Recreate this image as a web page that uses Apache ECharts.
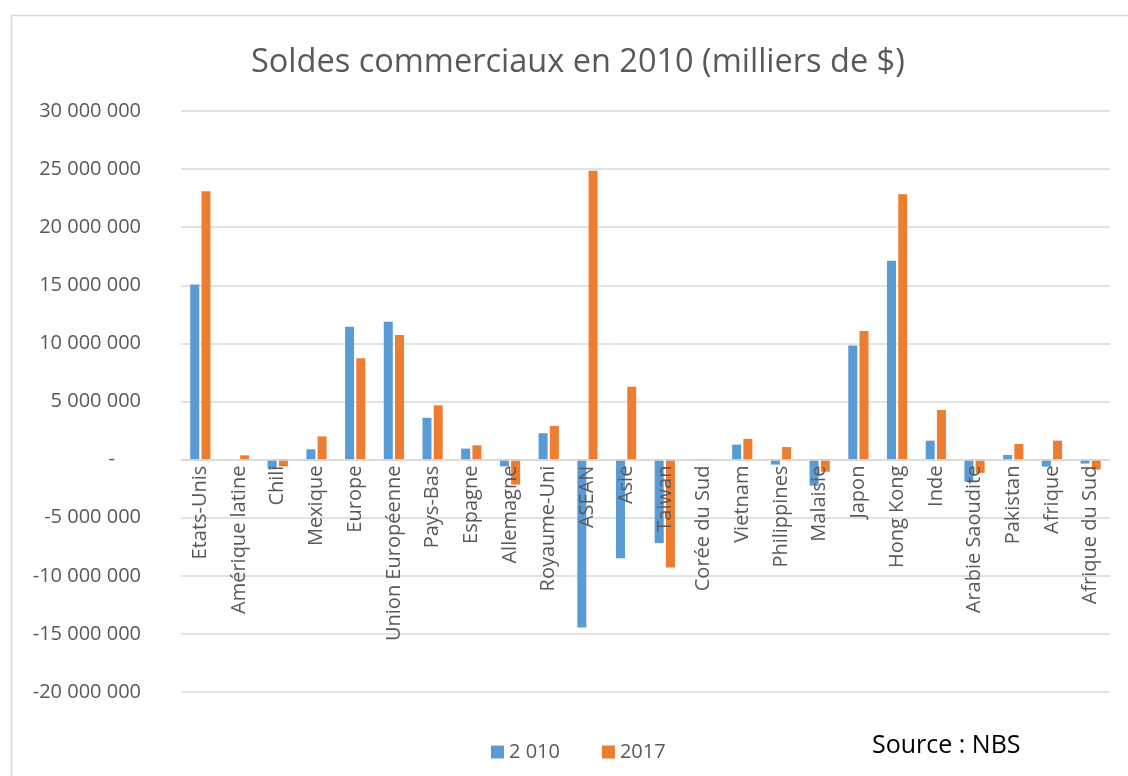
<!DOCTYPE html>
<html>
<head>
<meta charset="utf-8">
<title>Soldes commerciaux</title>
<script src="https://cdn.jsdelivr.net/npm/echarts@6/dist/echarts.min.js"></script>
<style>
  html, body { margin: 0; padding: 0; background: #fff; }
  #chart { width: 1128px; height: 776px; }
</style>
</head>
<body>
<div id="chart"></div>
<script>
// pays / zones
var categories = ['Etats-Unis', 'Amérique latine', 'Chili', 'Mexique', 'Europe', 'Union Européenne',
  'Pays-Bas', 'Espagne', 'Allemagne', 'Royaume-Uni', 'ASEAN', 'Asie', 'Taiwan', 'Corée du Sud',
  'Vietnam', 'Philippines', 'Malaisie', 'Japon', 'Hong Kong', 'Inde', 'Arabie Saoudite',
  'Pakistan', 'Afrique', 'Afrique du Sud'];

// soldes en milliers de $
var values2010 = [15060000, 0, -830000, 890000, 11430000, 11860000,
  3600000, 950000, -580000, 2270000, -14440000, -8480000, -7190000, 50000,
  1290000, -430000, -2240000, 9830000, 17120000, 1630000, -1900000,
  400000, -610000, -340000];
var values2017 = [23100000, 370000, -580000, 2000000, 8730000, 10720000,
  4670000, 1230000, -2150000, 2890000, 24860000, 6270000, -9280000, 50000,
  1780000, 1080000, -1040000, 11060000, 22830000, 4270000, -1140000,
  1350000, 1630000, -860000];

var seriesNames = ['2 010', '2017'];
var yMin = -20000000, yMax = 30000000;

var font = '"Open Sans", "Liberation Sans", sans-serif';

function fmt(v) {
  if (v === 0) return '-\u00a0\u00a0\u00a0\u00a0\u00a0';
  var s = Math.abs(v).toString().replace(/\B(?=(\d{3})+(?!\d))/g, ' ');
  return (v < 0 ? '-' : '') + s;
}

var gridTop = 111, gridBottom = 84, H = 776;
// the category axis sits on the zero line, like in Excel
var plotH = H - gridTop - gridBottom;
var zeroOffset = -plotH * (0 - yMin) / (yMax - yMin);

var myChart = echarts.init(document.getElementById('chart'));
var option = {
  animation: false,
  backgroundColor: '#fff',
  title: {
    text: 'Soldes commerciaux en 2010 (milliers de $)',
    left: 246,
    top: 41,
    textStyle: { fontFamily: font, fontSize: 32.5, fontWeight: 'normal', color: '#595959' }
  },
  legend: {
    data: seriesNames,
    left: 486,
    top: 737,
    itemWidth: 13,
    itemHeight: 13,
    itemGap: 42,
    icon: 'rect',
    textStyle: { fontFamily: font, fontSize: 20, color: '#595959' }
  },
  grid: { left: 181, right: 18, top: gridTop, bottom: gridBottom, outerBoundsMode: 'none', containLabel: false },
  xAxis: {
    type: 'category',
    data: categories,
    position: 'bottom',
    offset: zeroOffset,
    z: 5,
    axisLine: { onZero: false, lineStyle: { color: '#d9d9d9', width: 1.5 } },
    axisTick: { show: false },
    axisLabel: {
      rotate: 90,
      interval: 0,
      margin: 6,
      fontFamily: font,
      fontSize: 20,
      color: '#595959'
    }
  },
  yAxis: {
    type: 'value',
    min: yMin,
    max: yMax,
    interval: 5000000,
    axisLine: { show: false },
    axisTick: { show: false },
    splitLine: { lineStyle: { color: '#d9d9d9', width: 1.5 } },
    axisLabel: {
      margin: 40,
      fontFamily: font,
      fontSize: 20,
      color: '#595959',
      formatter: fmt
    }
  },
  series: [
    {
      name: seriesNames[0],
      type: 'bar',
      data: values2010,
      barWidth: 9,
      barGap: '25%',
      itemStyle: { color: '#5B9BD5' }
    },
    {
      name: seriesNames[1],
      type: 'bar',
      data: values2017,
      barWidth: 9,
      itemStyle: { color: '#ED7D31' }
    }
  ],
  graphic: [
    {
      type: 'rect',
      left: 9,
      top: 13,
      silent: true,
      shape: { width: 1140, height: 800 },
      style: { fill: 'none', stroke: '#d9d9d9', lineWidth: 1.5 }
    },
    {
      type: 'text',
      left: 872,
      top: 733,
      style: { text: 'Source : NBS', fontFamily: font, fontSize: 25, fill: '#000' }
    }
  ]
};
myChart.setOption(option);
</script>
</body>
</html>
